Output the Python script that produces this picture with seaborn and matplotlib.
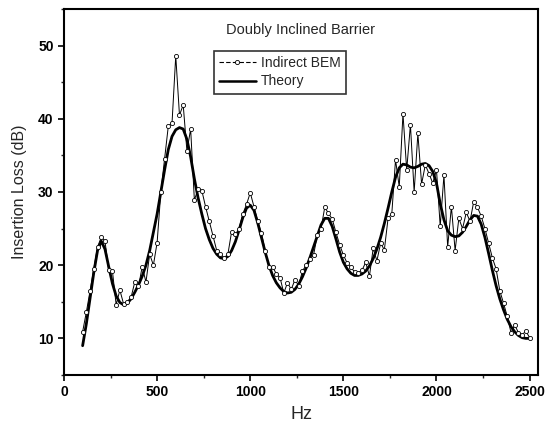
import matplotlib
matplotlib.use("Agg")
import matplotlib.pyplot as plt
from matplotlib.lines import Line2D
from matplotlib.ticker import MultipleLocator
import seaborn as sns
import pandas as pd

freq = [100, 120, 140, 160, 180, 200, 220, 240, 260, 280, 300, 320, 340, 360, 380, 400,
        420, 440, 460, 480, 500, 520, 540, 560, 580, 600, 620, 640, 660, 680, 700, 720,
        740, 760, 780, 800, 820, 840, 860, 880, 900, 920, 940, 960, 980, 1000, 1020, 1040,
        1060, 1080, 1100, 1120, 1140, 1160, 1180, 1200, 1220, 1240, 1260, 1280, 1300, 1320,
        1340, 1360, 1380, 1400, 1420, 1440, 1460, 1480, 1500, 1520, 1540, 1560, 1580, 1600,
        1620, 1640, 1660, 1680, 1700, 1720, 1740, 1760, 1780, 1800, 1820, 1840, 1860, 1880,
        1900, 1920, 1940, 1960, 1980, 2000, 2020, 2040, 2060, 2080, 2100, 2120, 2140, 2160,
        2180, 2200, 2220, 2240, 2260, 2280, 2300, 2320, 2340, 2360, 2380, 2400, 2420, 2440,
        2460, 2480, 2500]

bem = [10.9, 13.6, 16.5, 19.5, 22.5, 23.8, 23.3, 19.3, 19.2, 14.6, 16.6, 14.7, 15.0, 15.6, 17.7, 17.1,
       19.8, 17.7, 21.5, 20.0, 23.1, 30.0, 34.5, 39.0, 39.4, 48.6, 40.5, 41.9, 35.6, 38.6, 28.9, 30.4,
       30.2, 28.0, 26.0, 24.0, 22.0, 21.5, 21.0, 21.5, 24.6, 24.2, 25.0, 27.0, 28.3, 29.9, 28.0, 26.0,
       24.4, 22.0, 19.8, 19.8, 18.8, 18.3, 16.2, 17.6, 16.7, 18.0, 17.2, 19.2, 20.0, 20.8,
       21.4, 24.1, 25.0, 27.9, 27.1, 26.3, 24.5, 22.8, 21.4, 20.3, 19.7, 19.1, 19.0, 19.3,
       20.4, 18.5, 22.3, 20.6, 23.0, 22.1, 26.4, 27.0, 34.4, 30.7, 40.7, 33.0, 39.2, 30.0,
       38.0, 31.1, 33.7, 32.5, 31.2, 33.0, 25.3, 32.3, 22.5, 28.0, 22.0, 26.4, 25.0, 27.2,
       26.0, 28.7, 27.9, 26.7, 25.0, 23.0, 21.0, 19.5, 16.5, 14.8, 13.0, 10.8, 11.8, 10.8,
       10.5, 11.0, 10.1]

theory = [9.0, 12.0, 15.5, 19.0, 22.0, 23.3, 22.2, 19.8, 17.5, 15.8, 14.9, 14.6, 14.8, 15.4, 16.3, 17.3,
          18.5, 20.0, 22.0, 24.5, 27.0, 30.0, 33.0, 35.8, 37.6, 38.5, 38.8, 38.6, 37.2, 34.8, 31.8, 29.2,
          27.0, 25.0, 23.5, 22.3, 21.5, 21.0, 20.9, 21.2, 22.0, 23.2, 24.8, 26.5, 27.8, 28.2, 27.5, 25.8,
          23.8, 21.8, 20.0, 18.6, 17.6, 16.9, 16.4, 16.2, 16.3, 16.7, 17.4, 18.4, 19.6, 21.0,
          22.5, 24.0, 25.5, 26.4, 26.4, 25.3, 23.6, 21.8, 20.4, 19.5, 18.9, 18.6, 18.6, 18.8,
          19.2, 19.9, 20.9, 22.2, 23.8, 25.7, 27.8, 30.0, 32.0, 33.3, 33.8, 33.7, 33.4, 33.3,
          33.5, 33.8, 33.9, 33.6, 32.8, 31.2, 28.4, 26.2, 24.7, 24.1, 23.9, 24.0, 24.5, 25.3,
          26.2, 26.8, 26.7, 25.6, 23.8, 21.6, 19.3, 17.2, 15.4, 13.9, 12.6, 11.6, 10.9, 10.4,
          10.1, 10.0, 10.0]

title_text = "Doubly Inclined Barrier"
series_names = ["Indirect BEM", "Theory"]

df = pd.DataFrame({"Hz": freq, "bem": bem, "theory": theory})

sns.set_style("ticks")
plt.rcParams["font.family"] = ["Liberation Sans", "DejaVu Sans"]

fig = plt.figure(figsize=(5.46, 4.30), dpi=100)
ax = fig.add_axes([64 / 546, 1 - 375 / 430, 474 / 546, 366 / 430])

sns.lineplot(data=df, x="Hz", y="theory", ax=ax, color="black", linewidth=2.0)
sns.lineplot(data=df, x="Hz", y="bem", ax=ax, color="black", linewidth=0.7,
             marker="o", markersize=3, markerfacecolor="white",
             markeredgecolor="black", markeredgewidth=0.6)

ax.set_xlim(0, 2545)
ax.set_ylim(5, 55)
ax.xaxis.set_major_locator(MultipleLocator(500))
ax.xaxis.set_minor_locator(MultipleLocator(250))
ax.yaxis.set_major_locator(MultipleLocator(10))
ax.yaxis.set_minor_locator(MultipleLocator(5))
ax.tick_params(which="major", direction="out", length=4, width=1.2,
               labelsize=10, colors="black")
ax.tick_params(which="minor", direction="out", length=2.5, width=1.0)
for lab in ax.get_xticklabels() + ax.get_yticklabels():
    lab.set_fontweight("bold")
for s in ax.spines.values():
    s.set_visible(True)
    s.set_linewidth(1.5)
    s.set_color("black")

ax.set_xlabel("Hz", fontsize=13, labelpad=5)
ax.set_ylabel("Insertion Loss (dB)", fontsize=11.5, labelpad=8)

ax.text(0.5, 0.943, title_text, transform=ax.transAxes, ha="center", va="center",
        fontsize=10.5)

handles = [
    Line2D([], [], color="black", linewidth=0.8, linestyle=(0, (4, 2)), marker="o",
           markersize=3, markerfacecolor="white", markeredgewidth=0.6),
    Line2D([], [], color="black", linewidth=1.8),
]
leg = ax.legend(handles, series_names, loc="upper center", bbox_to_anchor=(0.456, 0.905),
                fontsize=10, frameon=True, fancybox=False, edgecolor="black",
                handlelength=2.6, borderpad=0.4, labelspacing=0.3, handletextpad=0.4)
leg.get_frame().set_linewidth(1.2)

fig.savefig("out.png", dpi=100)
